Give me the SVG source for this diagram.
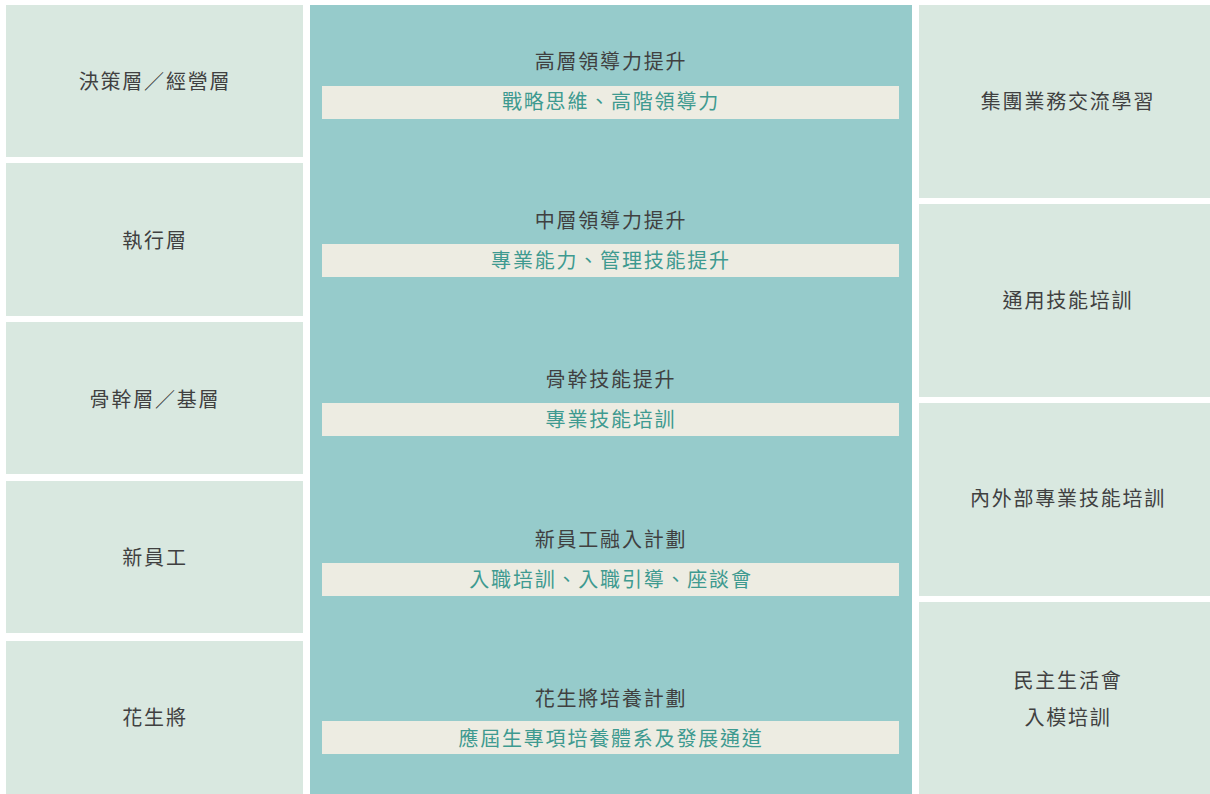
<svg xmlns="http://www.w3.org/2000/svg" width="1210" height="794" viewBox="0 0 1210 794">
<style>
.side{fill:#D9E8E0}
.mid{fill:#96CBCB}
.bar{fill:#EDECE2}
text{font-family:"Noto Sans CJK TC","Noto Sans CJK SC",sans-serif;font-size:20px;letter-spacing:1.8px;text-anchor:middle;dominant-baseline:central}
.lbl{fill:#404040}
.sub{fill:#3E9A90}
</style>
<rect width="1210" height="794" fill="#FFFFFF"/>
<g id="left1"><rect class="side" x="6" y="5" width="297" height="152"/><text class="lbl" x="155" y="80">決策層／經營層</text></g>
<g id="left2"><rect class="side" x="6" y="163" width="297" height="153"/><text class="lbl" x="155" y="239">執行層</text></g>
<g id="left3"><rect class="side" x="6" y="322" width="297" height="152"/><text class="lbl" x="155" y="398">骨幹層／基層</text></g>
<g id="left4"><rect class="side" x="6" y="481" width="297" height="152"/><text class="lbl" x="155" y="556">新員工</text></g>
<g id="left5"><rect class="side" x="6" y="641" width="297" height="153"/><text class="lbl" x="155" y="716">花生將</text></g>
<g id="middle">
<rect class="mid" x="310" y="5" width="602" height="789"/>
<text class="lbl" x="611" y="60">高層領導力提升</text>
<rect class="bar" x="322" y="86" width="577" height="33"/>
<text class="sub" x="611" y="100">戰略思維、高階領導力</text>
<text class="lbl" x="611" y="219">中層領導力提升</text>
<rect class="bar" x="322" y="244" width="577" height="33"/>
<text class="sub" x="611" y="259">專業能力、管理技能提升</text>
<text class="lbl" x="611" y="378">骨幹技能提升</text>
<rect class="bar" x="322" y="403" width="577" height="33"/>
<text class="sub" x="611" y="418">專業技能培訓</text>
<text class="lbl" x="611" y="538">新員工融入計劃</text>
<rect class="bar" x="322" y="563" width="577" height="33"/>
<text class="sub" x="611" y="578">入職培訓、入職引導、座談會</text>
<text class="lbl" x="611" y="697">花生將培養計劃</text>
<rect class="bar" x="322" y="721" width="577" height="33"/>
<text class="sub" x="611" y="737">應屆生專項培養體系及發展通道</text>
</g>
<g id="right1"><rect class="side" x="919" y="5" width="291" height="193"/><text class="lbl" x="1068" y="100">集團業務交流學習</text></g>
<g id="right2"><rect class="side" x="919" y="204" width="291" height="193"/><text class="lbl" x="1068" y="299">通用技能培訓</text></g>
<g id="right3"><rect class="side" x="919" y="403" width="291" height="193"/><text class="lbl" x="1068" y="497">內外部專業技能培訓</text></g>
<g id="right4"><rect class="side" x="919" y="602" width="291" height="192"/><text class="lbl" x="1068" y="679">民主生活會</text><text class="lbl" x="1068" y="716">入模培訓</text></g>
<g id="connectors"/>
</svg>
